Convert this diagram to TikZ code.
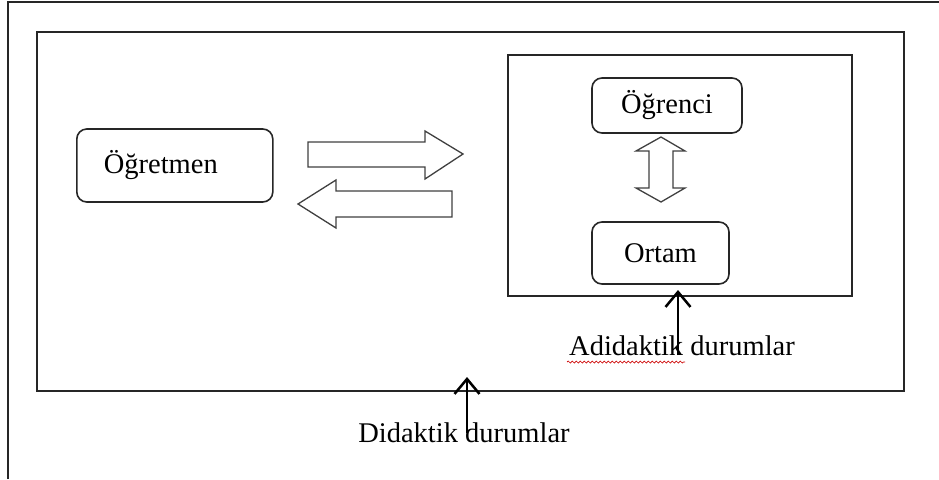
\documentclass[tikz,border=0pt]{standalone}
\usepackage{fontspec}
\setmainfont{Liberation Serif}
\usetikzlibrary{arrows.meta,decorations.pathmorphing}
\tikzset{
	cerceve/.style={draw=black!85, line width=1.8pt},
	kutu/.style={draw=black!85, line width=1.6pt, rounded corners=10pt, inner sep=0pt, font=\fontsize{28.5}{34}\selectfont},
	bosok/.style={draw=black!75, line width=1.3pt, fill=white, line join=miter},
	yazi/.style={font=\fontsize{28.5}{34}\selectfont, inner sep=0pt},
	gosterge/.style={line width=2.5pt, -{Straight Barb[length=15pt,width=25pt,line width=2.5pt]}}
}
\begin{document}
\begin{tikzpicture}[x=1pt,y=-1pt]
	\useasboundingbox (0,0) rectangle (939,479);
	
	% cerceveler
	\draw[cerceve] (8,479) -- (8,2) -- (939,2);
	\draw[cerceve] (37,32) rectangle (904,391);
	\draw[cerceve] (508,55) rectangle (852,296);
	
	% kutular
	\node[kutu, anchor=west, text width=142pt, inner xsep=27pt, minimum height=73pt, align=left] (ogretmen) at (76,165.5) {Öğretmen};
	\node[kutu, minimum width=150pt, minimum height=55pt] (ogrenci) at (667,105.5) {Öğrenci};
	\node[kutu, minimum width=137pt, minimum height=62pt] (ortam) at (660.5,253) {Ortam};
	
	% bos oklar
	\draw[bosok] (308,142) -- (425,142) -- (425,131) -- (463,154) -- (425,179) -- (425,167) -- (308,167) -- cycle;
	\draw[bosok] (452,191) -- (336,191) -- (336,180) -- (298,204) -- (336,228) -- (336,217) -- (452,217) -- cycle;
	\draw[bosok] (661,137) -- (685,151) -- (673,151) -- (673,188) -- (685,188) -- (661,202) -- (636,188) -- (649,188) -- (649,151) -- (636,151) -- cycle;
	
	% etiketler
	\node[yazi, anchor=base] (adidaktik) at (682,355) {Adidaktik durumlar};
	\node[yazi, anchor=base] (didaktik) at (464,442) {Didaktik durumlar};
	\draw[red!80!black, line width=0.7pt, decorate, decoration={snake, amplitude=1pt, segment length=4pt}] (567,362) -- (685,362);
	
	\coordinate (a-alt) at (678,355);
	\coordinate (a-uc) at (678,290);
	\coordinate (d-alt) at (467,433);
	\coordinate (d-uc) at (467,377);
	\draw[gosterge] (a-alt) -- (a-uc);
	\draw[gosterge] (d-alt) -- (d-uc);
\end{tikzpicture}
\end{document}
